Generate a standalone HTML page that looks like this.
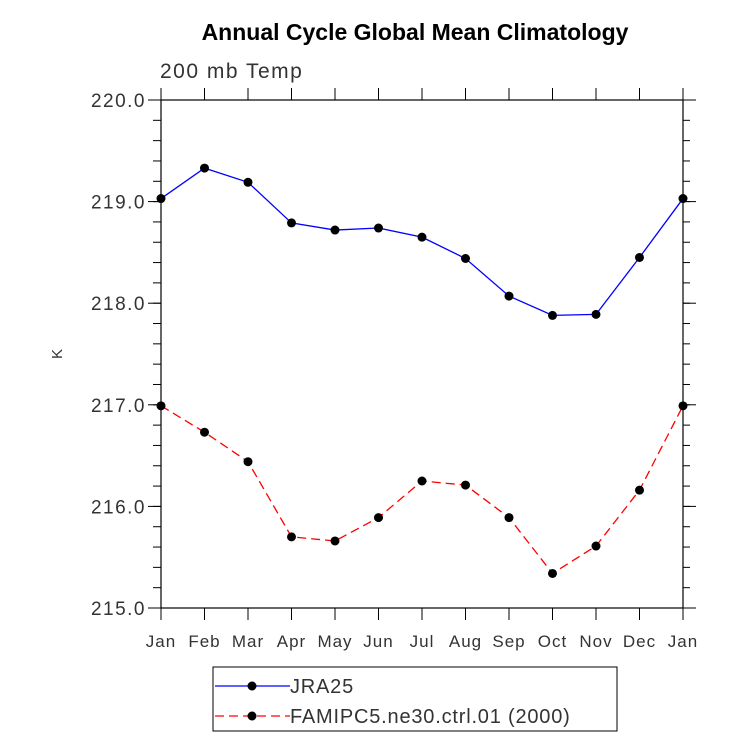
<!DOCTYPE html>
<html><head><meta charset="utf-8"><style>
body{margin:0;background:#fff;}
svg{display:block;font-family:"Liberation Sans",sans-serif;}
</style></head><body>
<svg id="chart" width="733" height="756">
<text x="415" y="40" text-anchor="middle" font-size="23" font-weight="bold">Annual Cycle Global Mean Climatology</text>
<text x="160" y="78" font-size="21" fill="#333" letter-spacing="1.5">200 mb Temp</text>
<text x="62" y="354" font-size="15" fill="#333" transform="rotate(-90 62 354)" text-anchor="middle">K</text>
<rect x="161" y="100" width="522" height="508" fill="none" stroke="#000" stroke-width="1.2"/>
<g id="axes"></g>
<g id="series"></g>
<g>
<rect x="213" y="667" width="404" height="64" fill="none" stroke="#000"/>
<line x1="215" y1="686" x2="290" y2="686" stroke="#00f" stroke-width="1.3"/>
<circle cx="252" cy="686" r="4.5" fill="#000"/>
<text x="290" y="693" font-size="20" fill="#333" letter-spacing="0.8">JRA25</text>
<line x1="215" y1="716" x2="290" y2="716" stroke="#f00" stroke-width="1.3" stroke-dasharray="9,5"/>
<circle cx="252" cy="716" r="4.5" fill="#000"/>
<text x="290" y="723" font-size="20" fill="#333" letter-spacing="0.8">FAMIPC5.ne30.ctrl.01 (2000)</text>
</g>
</svg>
<script>
const months=["Jan","Feb","Mar","Apr","May","Jun","Jul","Aug","Sep","Oct","Nov","Dec","Jan"];
const jra25=[219.03,219.33,219.19,218.79,218.72,218.74,218.65,218.44,218.07,217.88,217.89,218.45,219.03];
const famip=[216.99,216.73,216.44,215.70,215.66,215.89,216.25,216.21,215.89,215.34,215.61,216.16,216.99];
const yTicks=[215,216,217,218,219,220];
const NS="http://www.w3.org/2000/svg";
const X0=161,X1=683,Y0=608,Y1=100,YMIN=215,YMAX=220;
const xs=i=>X0+(X1-X0)*i/(months.length-1);
const ys=v=>Y0-(v-YMIN)/(YMAX-YMIN)*(Y0-Y1);
function mk(tag,attrs,parent){const e=document.createElementNS(NS,tag);for(const k in attrs)e.setAttribute(k,attrs[k]);parent.appendChild(e);return e;}
const ax=document.getElementById('axes');
yTicks.forEach(v=>{
 const y=ys(v);
 const t=mk('text',{x:146,y:y+7,'text-anchor':'end','font-size':19,fill:'#333','letter-spacing':1.5},ax);
 t.textContent=v.toFixed(1);
 
 
 mk('line',{x1:148,y1:y,x2:161,y2:y,stroke:'#000'},ax);
 mk('line',{x1:683,y1:y,x2:696,y2:y,stroke:'#000'},ax);
});
for(let v=YMIN;v<YMAX-0.01;v+=0.2){
 const y=ys(v);
 mk('line',{x1:153,y1:y,x2:161,y2:y,stroke:'#000'},ax);
 mk('line',{x1:683,y1:y,x2:690,y2:y,stroke:'#000'},ax);
}
months.forEach((m,i)=>{
 const x=xs(i);
 mk('line',{x1:x,y1:608,x2:x,y2:620,stroke:'#000'},ax);
 mk('line',{x1:x,y1:88,x2:x,y2:100,stroke:'#000'},ax);
 const t=mk('text',{x:x,y:647,'text-anchor':'middle','font-size':17,fill:'#333','letter-spacing':1},ax);
 t.textContent=m;
 
 
});
const sg=document.getElementById('series');
function draw(vals,color,dash,name){
 const p=mk('polyline',{points:vals.map((v,i)=>xs(i)+','+ys(v)).join(' '),fill:'none',stroke:color,'stroke-width':1.3},sg);
 if(dash)p.setAttribute('stroke-dasharray',dash);
 
 
 vals.forEach((v,i)=>{
  const c=mk('circle',{cx:xs(i),cy:ys(v),r:4.5,fill:'#000'},sg);
  
  
 });
}
draw(jra25,'#00f',null,'jra25');
draw(famip,'#f00','9,5','famip');
</script>
</body></html>
